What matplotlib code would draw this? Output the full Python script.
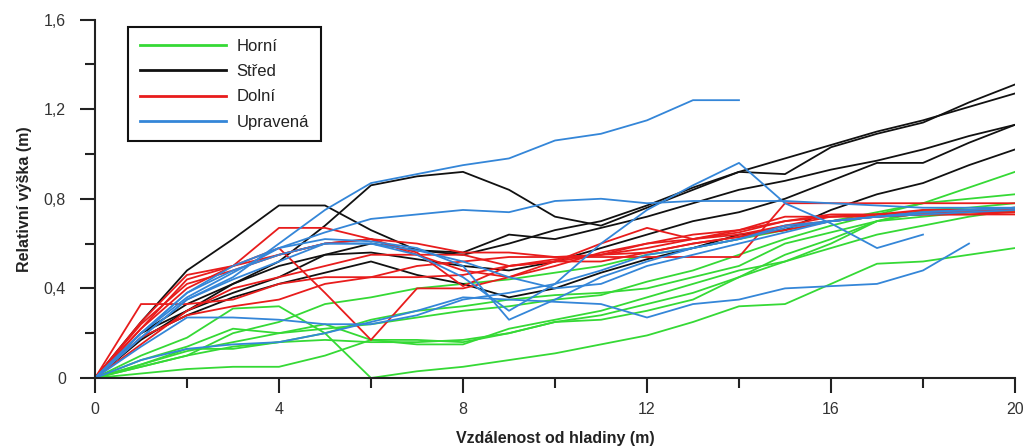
import matplotlib
matplotlib.use("Agg")
import matplotlib.pyplot as plt
from matplotlib.ticker import MultipleLocator

plt.rcParams['font.family'] = ['Liberation Sans', 'DejaVu Sans']

# x positions (m) shared by the full-length profiles
x_full = list(range(21))

# Horní (green)
horni_1 = [0, 0.05, 0.10, 0.20, 0.25, 0.33, 0.36, 0.40, 0.42, 0.44, 0.47, 0.50, 0.55, 0.58, 0.62, 0.66, 0.70, 0.74, 0.78, 0.80, 0.82]
horni_2 = [0, 0.06, 0.12, 0.16, 0.20, 0.22, 0.24, 0.27, 0.30, 0.32, 0.35, 0.37, 0.43, 0.48, 0.55, 0.62, 0.68, 0.73, 0.78, 0.85, 0.92]
horni_3_x = [0, 1, 2, 3, 4, 5, 6]
horni_3 = [0, 0.10, 0.18, 0.31, 0.32, 0.20, 0.0]
horni_4_x = [6, 7, 8, 9, 10, 11, 12, 13, 14, 15, 16, 17, 18, 19, 20]
horni_4 = [0, 0.03, 0.05, 0.08, 0.11, 0.15, 0.19, 0.25, 0.32, 0.33, 0.42, 0.51, 0.52, 0.55, 0.58]
horni_5 = [0, 0.02, 0.04, 0.05, 0.05, 0.10, 0.17, 0.17, 0.16, 0.20, 0.25, 0.26, 0.30, 0.35, 0.45, 0.55, 0.62, 0.70, 0.74, 0.75, 0.76]
horni_6 = [0, 0.08, 0.14, 0.22, 0.20, 0.24, 0.17, 0.15, 0.15, 0.22, 0.26, 0.30, 0.36, 0.42, 0.48, 0.52, 0.60, 0.70, 0.72, 0.74, 0.74]
horni_7 = [0, 0.06, 0.13, 0.13, 0.16, 0.20, 0.26, 0.30, 0.32, 0.35, 0.37, 0.38, 0.40, 0.45, 0.50, 0.60, 0.65, 0.70, 0.75, 0.76, 0.78]
horni_8 = [0, 0.05, 0.10, 0.14, 0.16, 0.17, 0.16, 0.16, 0.17, 0.20, 0.25, 0.28, 0.33, 0.38, 0.45, 0.52, 0.58, 0.64, 0.68, 0.72, 0.75]

# Střed (black)
stred_1 = [0, 0.25, 0.48, 0.62, 0.77, 0.77, 0.66, 0.57, 0.56, 0.64, 0.62, 0.67, 0.72, 0.78, 0.84, 0.88, 0.93, 0.97, 1.02, 1.08, 1.13]
stred_2 = [0, 0.17, 0.30, 0.42, 0.52, 0.68, 0.86, 0.90, 0.92, 0.84, 0.72, 0.68, 0.76, 0.84, 0.92, 0.98, 1.04, 1.10, 1.15, 1.21, 1.27]
stred_3 = [0, 0.20, 0.33, 0.42, 0.50, 0.55, 0.60, 0.57, 0.55, 0.60, 0.66, 0.70, 0.77, 0.85, 0.92, 0.91, 1.03, 1.09, 1.14, 1.23, 1.31]
stred_4 = [0, 0.18, 0.28, 0.36, 0.42, 0.47, 0.52, 0.46, 0.42, 0.36, 0.40, 0.47, 0.53, 0.58, 0.64, 0.66, 0.75, 0.82, 0.87, 0.95, 1.02]
stred_5 = [0, 0.20, 0.30, 0.38, 0.45, 0.55, 0.56, 0.53, 0.50, 0.48, 0.52, 0.58, 0.64, 0.70, 0.74, 0.80, 0.88, 0.96, 0.96, 1.05, 1.13]

# Dolní (red)
dolni_1 = [0, 0.33, 0.33, 0.35, 0.42, 0.45, 0.45, 0.45, 0.46, 0.50, 0.53, 0.55, 0.56, 0.60, 0.63, 0.68, 0.70, 0.72, 0.73, 0.74, 0.74]
dolni_2 = [0, 0.25, 0.46, 0.50, 0.67, 0.67, 0.62, 0.60, 0.56, 0.56, 0.54, 0.55, 0.60, 0.64, 0.66, 0.70, 0.73, 0.73, 0.75, 0.75, 0.76]
dolni_3 = [0, 0.22, 0.40, 0.50, 0.58, 0.38, 0.17, 0.40, 0.40, 0.45, 0.52, 0.52, 0.56, 0.60, 0.63, 0.66, 0.70, 0.72, 0.73, 0.73, 0.74]
dolni_4 = [0, 0.24, 0.42, 0.48, 0.55, 0.60, 0.62, 0.56, 0.41, 0.50, 0.52, 0.55, 0.58, 0.62, 0.64, 0.68, 0.72, 0.73, 0.74, 0.74, 0.75]
dolni_5 = [0, 0.18, 0.28, 0.32, 0.35, 0.42, 0.45, 0.50, 0.52, 0.54, 0.54, 0.54, 0.54, 0.54, 0.54, 0.78, 0.78, 0.78, 0.78, 0.78, 0.78]
dolni_6 = [0, 0.22, 0.44, 0.50, 0.55, 0.60, 0.62, 0.55, 0.55, 0.50, 0.52, 0.60, 0.67, 0.62, 0.66, 0.72, 0.72, 0.72, 0.73, 0.73, 0.73]
dolni_7 = [0, 0.15, 0.30, 0.40, 0.45, 0.50, 0.55, 0.55, 0.48, 0.45, 0.50, 0.56, 0.60, 0.62, 0.65, 0.70, 0.72, 0.73, 0.74, 0.75, 0.75]

# Upravená (blue)
upr_1_x = list(range(15))
upr_1 = [0, 0.18, 0.35, 0.45, 0.60, 0.75, 0.87, 0.91, 0.95, 0.98, 1.06, 1.09, 1.15, 1.24, 1.24]
upr_2_x = list(range(19))
upr_2 = [0, 0.20, 0.38, 0.48, 0.55, 0.60, 0.60, 0.55, 0.45, 0.30, 0.42, 0.60, 0.75, 0.86, 0.96, 0.78, 0.69, 0.58, 0.64]
upr_3 = [0, 0.20, 0.36, 0.47, 0.58, 0.65, 0.71, 0.73, 0.75, 0.74, 0.79, 0.80, 0.78, 0.79, 0.79, 0.79, 0.78, 0.77, 0.76, 0.76, 0.76]
upr_4_x = list(range(20))
upr_4 = [0, 0.08, 0.13, 0.15, 0.16, 0.20, 0.25, 0.30, 0.36, 0.35, 0.34, 0.33, 0.27, 0.33, 0.35, 0.40, 0.41, 0.42, 0.48, 0.60]
upr_5 = [0, 0.20, 0.38, 0.50, 0.58, 0.62, 0.61, 0.58, 0.50, 0.26, 0.35, 0.45, 0.52, 0.58, 0.62, 0.67, 0.70, 0.72, 0.73, 0.74, 0.75]
upr_6 = [0, 0.14, 0.27, 0.27, 0.26, 0.24, 0.24, 0.28, 0.35, 0.38, 0.42, 0.48, 0.55, 0.58, 0.62, 0.68, 0.70, 0.72, 0.74, 0.75, 0.76]
upr_7 = [0, 0.18, 0.35, 0.44, 0.52, 0.60, 0.60, 0.57, 0.52, 0.45, 0.40, 0.42, 0.50, 0.55, 0.60, 0.65, 0.70, 0.72, 0.74, 0.75, 0.76]

x_ticks = [0, 4, 8, 12, 16, 20]
y_ticks = [0, 0.4, 0.8, 1.2, 1.6]
y_tick_labels = ['0', '0,4', '0,8', '1,2', '1,6']

groups = [
    ('Horní', '#35d935', [(x_full, horni_1), (x_full, horni_2), (horni_3_x, horni_3), (horni_4_x, horni_4),
                          (x_full, horni_5), (x_full, horni_6), (x_full, horni_7), (x_full, horni_8)]),
    ('Střed', '#111111', [(x_full, stred_1), (x_full, stred_2), (x_full, stred_3), (x_full, stred_4), (x_full, stred_5)]),
    ('Dolní', '#e81c1c', [(x_full, dolni_1), (x_full, dolni_2), (x_full, dolni_3), (x_full, dolni_4),
                          (x_full, dolni_5), (x_full, dolni_6), (x_full, dolni_7)]),
    ('Upravená', '#3486d8', [(upr_1_x, upr_1), (upr_2_x, upr_2), (x_full, upr_3), (upr_4_x, upr_4),
                             (x_full, upr_5), (x_full, upr_6), (x_full, upr_7)]),
]

fig = plt.figure(figsize=(10.27, 4.48), dpi=100)
ax = fig.add_axes([0.0925, 0.15625, 0.8958, 0.8002])

for name, color, lines in groups:
    for i, (xs, ys) in enumerate(lines):
        ax.plot(xs, ys, color=color, lw=1.3, label=name if i == 0 else None)

ax.set_xlim(0, 20)
ax.set_ylim(0, 1.6)
ax.set_xticks(x_ticks)
ax.set_yticks(y_ticks)
ax.set_yticklabels(y_tick_labels)
ax.xaxis.set_minor_locator(MultipleLocator(2))
ax.yaxis.set_minor_locator(MultipleLocator(0.2))

for side in ['top', 'right']:
    ax.spines[side].set_visible(False)
for side in ['left', 'bottom']:
    ax.spines[side].set_linewidth(1.5)
    ax.spines[side].set_color('#222222')

ax.tick_params(which='major', direction='out', length=11, width=1.5, color='#222222',
               labelsize=11.5, labelcolor='#333333', pad=6)
ax.tick_params(axis='y', which='major', pad=10)
ax.tick_params(which='minor', direction='out', length=7, width=1.5, color='#222222')

ax.set_xlabel('Vzdálenost od hladiny (m)', fontsize=11.5, fontweight='bold', color='#222222', labelpad=10)
ax.set_ylabel('Relativní výška (m)', fontsize=11.5, fontweight='bold', color='#222222', labelpad=8)

leg = ax.legend(loc='upper left', bbox_to_anchor=(0.036, 0.979), borderaxespad=0,
                fontsize=12, handlelength=5.2, handletextpad=0.6, labelspacing=0.62,
                borderpad=0.7, fancybox=False, framealpha=1)
leg.get_frame().set_edgecolor('#111111')
leg.get_frame().set_linewidth(1.5)
for line in leg.get_lines():
    line.set_linewidth(2)
for t in leg.get_texts():
    t.set_color('#222222')

fig.savefig('out.png', dpi=100)
